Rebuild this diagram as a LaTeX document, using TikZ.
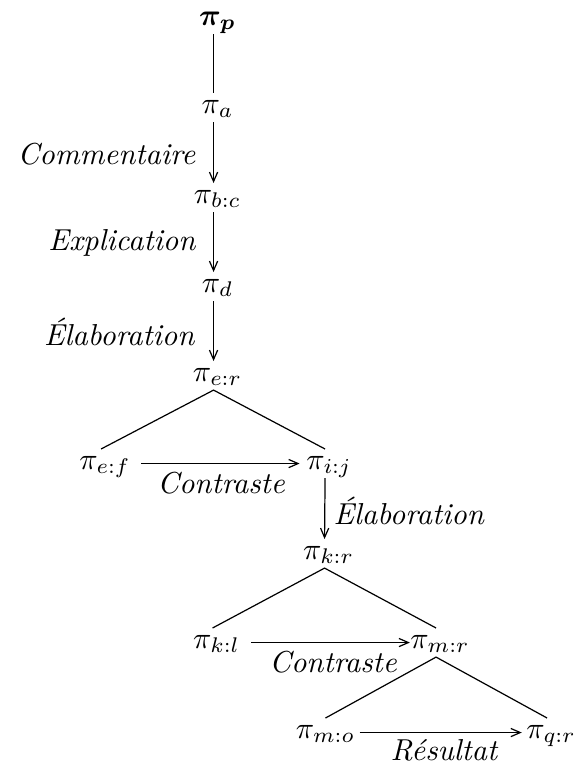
\documentclass[tikz,border=0pt]{standalone}
\usepackage{fontspec}
\usepackage{bm}
\usetikzlibrary{arrows.meta}
\tikzset{
  nd/.style={anchor=base, inner xsep=0pt, inner ysep=1.3pt, text height=5.1pt, text depth=1.5pt},
  lbl/.style={inner sep=0pt, font=\itshape},
  arr/.style={-{Straight Barb[length=3.1pt,width=2.7pt]}},
  ln/.style={line width=0.4pt},
}
\begin{document}
\begin{tikzpicture}[x=0.33pt,y=-0.33pt]
\useasboundingbox (0,0) rectangle (574,764);
% nodes
\node[nd] (p)  at (217.5,25)  {$\bm{\pi_p}$};
\node[nd] (a)  at (217.5,113) {$\pi_a$};
\node[nd] (bc) at (217.5,203) {$\pi_{b:c}$};
\node[nd] (d)  at (217.5,292) {$\pi_d$};
\node[nd] (er) at (217.5,381) {$\pi_{e:r}$};
\node[nd] (ef) at (105,469)   {$\pi_{e:f}$};
\node[nd] (ij) at (329,469)   {$\pi_{i:j}$};
\node[nd] (kr) at (328.5,559) {$\pi_{k:r}$};
\node[nd] (kl) at (216.5,648) {$\pi_{k:l}$};
\node[nd] (mr) at (440,648)   {$\pi_{m:r}$};
\node[nd] (mo) at (325.5,738) {$\pi_{m:o}$};
\node[nd] (qr) at (551,738)   {$\pi_{q:r}$};
% vertical chain
\draw[ln] ([xshift=-1.3pt]p.south) -- ([xshift=-1.3pt]a.north);
\draw[ln,arr] ([xshift=-1.3pt]a.south) -- ([xshift=-1.3pt]bc.north);
\draw[ln,arr] ([xshift=-1.3pt]bc.south) -- ([xshift=-1.3pt]d.north);
\draw[ln,arr] ([xshift=-1.3pt]d.south) -- ([xshift=-1.3pt]er.north);
\draw[ln,arr] ([xshift=-1.3pt]ij.south) -- ([xshift=-1.3pt]kr.north);
% trees
\draw[ln] ([xshift=-1.3pt]ef.north) -- ([xshift=-1.3pt]er.south) -- ([xshift=-1.3pt]ij.north);
\draw[ln] ([xshift=-1.3pt]kl.north) -- ([xshift=-1.3pt]kr.south) -- ([xshift=-1.3pt]mr.north);
\draw[ln] (mo.north) -- ([xshift=-1.3pt]mr.south) -- ([xshift=-1.3pt]qr.north);
% horizontal relations
\draw[ln,arr,shorten <=3.3pt,shorten >=2.0pt] (ef.east) -- (ij.west);
\draw[ln,arr,shorten <=3.6pt] (kl.east) -- (mr.west);
\draw[ln,arr,shorten <=1.3pt,shorten >=1.3pt] (mo.east) -- (qr.west);
% labels
\node[lbl,anchor=base east] (l1) at (196,164) {Commentaire};
\node[lbl,anchor=base east] (l2) at (196,250) {Explication};
\node[lbl,anchor=base east] (l3) at (195,345) {Élaboration};
\node[lbl,anchor=base] (l4) at (221,493) {Contraste};
\node[lbl,anchor=base west] (l5) at (333,524) {Élaboration};
\node[lbl,anchor=base] (l6) at (333,672) {Contraste};
\node[lbl,anchor=base] (l7) at (444,760) {Résultat};
\end{tikzpicture}
\end{document}
